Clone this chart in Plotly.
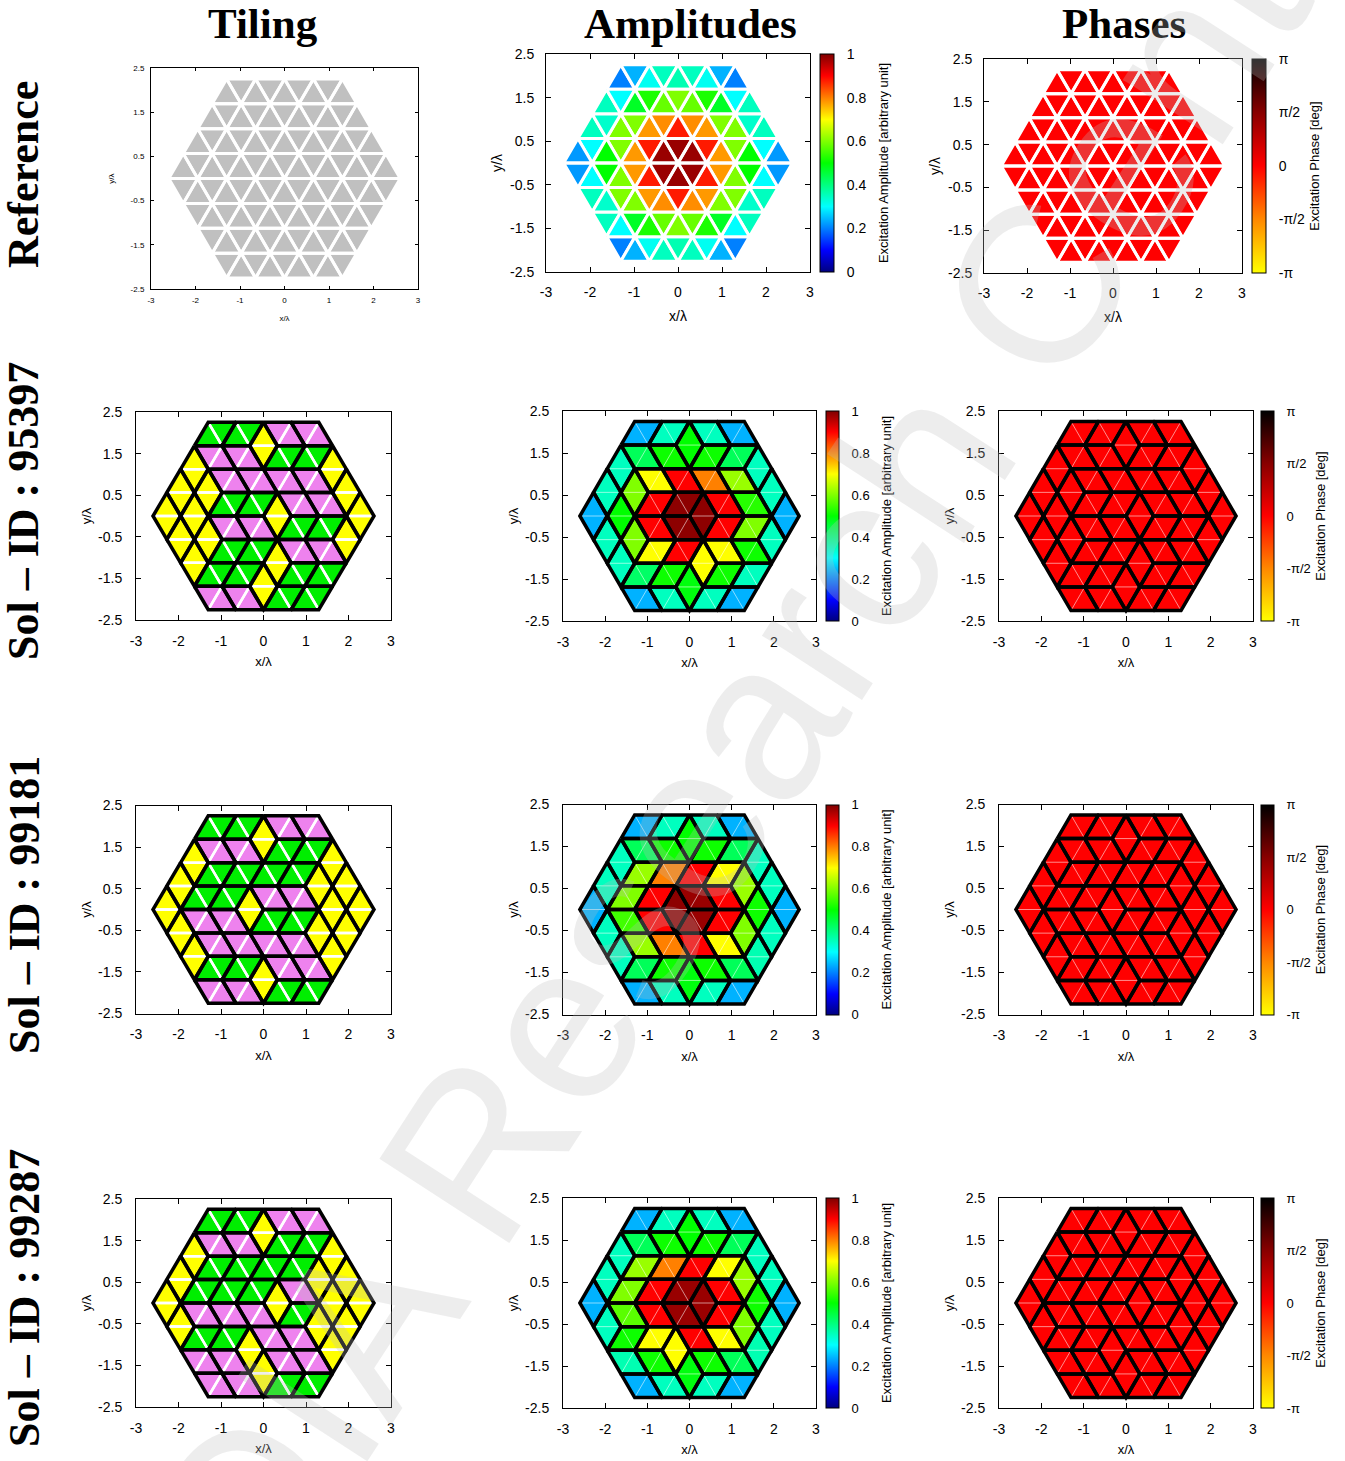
import math
import plotly.graph_objects as go
from plotly.colors import sample_colorscale

FIG_W, FIG_H = 1345, 1461
SANS = "Liberation Sans, Arial, sans-serif"
SERIF = "Liberation Serif, DejaVu Serif, serif"

# ---------------- data ----------------
COL_TITLES = ["Tiling", "Amplitudes", "Phases"]
ROW_TITLES = ["Reference", "Sol – ID : 95397", "Sol – ID : 99181", "Sol – ID : 99287"]
X_TICKS = [-3, -2, -1, 0, 1, 2, 3]
X_TICK_TEXT = ["-3", "-2", "-1", "0", "1", "2", "3"]
Y_TICKS = [-2.5, -1.5, -0.5, 0.5, 1.5, 2.5]
Y_TICK_TEXT = ["-2.5", "-1.5", "-0.5", "0.5", "1.5", "2.5"]
AMP_TICKS = [0, 0.2, 0.4, 0.6, 0.8, 1]
AMP_TICK_TEXT = ["0", "0.2", "0.4", "0.6", "0.8", "1"]
PHASE_TICKS = [-math.pi, -math.pi / 2, 0, math.pi / 2, math.pi]
PHASE_TICK_TEXT = ["-π", "-π/2", "0", "π/2", "π"]

ROW_LENGTHS = [9, 11, 13, 15, 15, 13, 11, 9]

# Reference array: one amplitude per triangle (rows top->bottom, left->right)
REF_AMP = [
    [0.20, 0.24, 0.31, 0.35, 0.36, 0.35, 0.31, 0.24, 0.20],
    [0.35, 0.30, 0.47, 0.52, 0.58, 0.60, 0.58, 0.52, 0.47, 0.30, 0.35],
    [0.35, 0.34, 0.60, 0.60, 0.78, 0.79, 0.88, 0.79, 0.78, 0.60, 0.60, 0.34, 0.35],
    [0.22, 0.30, 0.50, 0.60, 0.78, 0.88, 0.98, 0.98, 0.98, 0.88, 0.78, 0.60, 0.50, 0.30, 0.22],
    [0.22, 0.30, 0.50, 0.60, 0.78, 0.88, 0.98, 0.98, 0.98, 0.88, 0.78, 0.60, 0.50, 0.30, 0.22],
    [0.35, 0.34, 0.60, 0.60, 0.78, 0.79, 0.88, 0.79, 0.78, 0.60, 0.60, 0.34, 0.35],
    [0.35, 0.30, 0.47, 0.52, 0.58, 0.60, 0.58, 0.52, 0.47, 0.30, 0.35],
    [0.20, 0.24, 0.31, 0.35, 0.36, 0.35, 0.31, 0.24, 0.20],
]
REF_PHASE = [
    [0, 0, 0, 0, 0, 0, 0, 0, 0],
    [0, 0, 0, 0, 0, 0, 0, 0, 0, 0, 0],
    [0, 0, 0, 0, 0, 0, 0, 0, 0, 0, 0, 0, 0],
    [0, 0, 0, 0, 0, 0, 0, 0, 0, 0, 0, 0, 0, 0, 0],
    [0, 0, 0, 0, 0, 0, 0, 0, 0, 0, 0, 0, 0, 0, 0],
    [0, 0, 0, 0, 0, 0, 0, 0, 0, 0, 0, 0, 0],
    [0, 0, 0, 0, 0, 0, 0, 0, 0, 0, 0],
    [0, 0, 0, 0, 0, 0, 0, 0, 0],
]

# Rhombic tilings: per triangle, G = paired with neighbour (\ joint),
# V = paired with neighbour (/ joint), Y = paired vertically (horizontal joint)
TILING_95397 = ["GGGGYVVVV", "YVVVVYGGGGY", "YYYVVVVVVVVYY", "YYYYGGGGYVVVVYY",
                "YYYYVVVVYGGGGYY", "YYYGGGGYVVVVY", "YGGGGYYGGGG", "VVVVYGGGG"]
TILING_99181 = ["GGGGYVVVV", "YVVVVYGGGGY", "YYGGGGGGGGYYY", "YYGGGGYVVVVYYYY",
                "YYVVVVYGGGGYYYY", "YYVVVVVVVVYYY", "YGGGGYVVVVY", "VVVVYGGGG"]
TILING_99287 = ["GGGGYVVVV", "YVVVVYGGGGY", "YYGGGGGGGGYYY", "YYGGGGGGYVVYYYY",
                "YYVVVVVVYGGYYYY", "YGGGGYVVVVYYY", "VVVVYYVVVVY", "VVVVYGGGG"]

# Amplitude per rhombus (scan order, top->bottom, left->right)
AMP_95397 = [0.24, 0.35, 0.50, 0.35, 0.24,
             0.35, 0.43, 0.51, 0.51, 0.43, 0.35,
             0.35, 0.60, 0.70, 0.90, 0.80, 0.62, 0.35,
             0.24, 0.50, 0.90, 0.99, 0.99, 0.90, 0.53, 0.24,
             0.35, 0.60, 0.90, 0.99, 0.90, 0.60, 0.35,
             0.35, 0.70, 0.90, 0.70, 0.70, 0.51,
             0.42, 0.51, 0.49, 0.51, 0.35,
             0.24, 0.35, 0.35, 0.24]
AMP_99181 = [0.24, 0.35, 0.50, 0.35, 0.24,
             0.35, 0.43, 0.51, 0.51, 0.43, 0.35,
             0.35, 0.62, 0.80, 0.90, 0.70, 0.62, 0.35,
             0.24, 0.60, 0.90, 0.99, 0.98, 0.90, 0.51, 0.24,
             0.35, 0.55, 0.90, 0.98, 0.90, 0.60, 0.35,
             0.35, 0.62, 0.80, 0.90, 0.70, 0.36,
             0.43, 0.51, 0.49, 0.51, 0.43,
             0.24, 0.35, 0.35, 0.24]
AMP_99287 = [0.24, 0.35, 0.50, 0.35, 0.24,
             0.35, 0.43, 0.51, 0.51, 0.43, 0.35,
             0.35, 0.62, 0.80, 0.90, 0.70, 0.62, 0.35,
             0.24, 0.60, 0.90, 0.98, 0.98, 0.90, 0.51, 0.24,
             0.35, 0.57, 0.90, 0.98, 0.90, 0.60, 0.35,
             0.51, 0.70, 0.70, 0.90, 0.70, 0.36,
             0.36, 0.51, 0.49, 0.51, 0.43,
             0.24, 0.35, 0.35, 0.24]
PHASE_95397 = [0, 0, 0, 0, 0, 0, 0, 0, 0, 0, 0, 0, 0, 0, 0, 0, 0, 0, 0, 0, 0, 0, 0, 0,
               0, 0, 0, 0, 0, 0, 0, 0, 0, 0, 0, 0, 0, 0, 0, 0, 0, 0, 0, 0, 0, 0, 0, 0]
PHASE_99181 = [0, 0, 0, 0, 0, 0, 0, 0, 0, 0, 0, 0, 0, 0, 0, 0, 0, 0, 0, 0, 0, 0, 0, 0,
               0, 0, 0, 0, 0, 0, 0, 0, 0, 0, 0, 0, 0, 0, 0, 0, 0, 0, 0, 0, 0, 0, 0, 0]
PHASE_99287 = [0, 0, 0, 0, 0, 0, 0, 0, 0, 0, 0, 0, 0, 0, 0, 0, 0, 0, 0, 0, 0, 0, 0, 0,
               0, 0, 0, 0, 0, 0, 0, 0, 0, 0, 0, 0, 0, 0, 0, 0, 0, 0, 0, 0, 0, 0, 0, 0]

SOLUTIONS = [(TILING_95397, AMP_95397, PHASE_95397),
             (TILING_99181, AMP_99181, PHASE_99181),
             (TILING_99287, AMP_99287, PHASE_99287)]

# ---------------- styles ----------------
AMP_SCALE = [[0.0, "rgb(0,0,128)"], [0.1, "rgb(0,0,255)"], [0.3, "rgb(0,255,255)"],
             [0.5, "rgb(0,255,0)"], [0.7, "rgb(255,255,0)"], [0.8, "rgb(255,128,0)"],
             [0.9, "rgb(255,0,0)"], [1.0, "rgb(128,0,0)"]]
PHASE_SCALE = [[0.0, "rgb(255,255,0)"], [0.25, "rgb(255,136,0)"], [0.5, "rgb(255,0,0)"],
               [0.75, "rgb(136,0,0)"], [1.0, "rgb(0,0,0)"]]
TILE_COLORS = {"G": "rgb(0,238,0)", "V": "rgb(238,130,238)", "Y": "rgb(255,255,0)"}
REF_TILE_COLOR = "rgb(192,192,192)"
NBSP = "\u00a0"

# ---------------- geometry ----------------
SIDE = 0.65
HGT = SIDE * math.sqrt(3) / 2
NS = 4


def triangle(r, j):
    ytop = (NS - r) * HGT
    ybot = ytop - HGT
    if r < NS:
        xc = -NS * SIDE / 2 + SIDE / 2 * (j - r)
        up = (j % 2 == 0)
    else:
        xc = -NS * SIDE + SIDE / 2 * (r - NS) + SIDE / 2 * (j + 1)
        up = (j % 2 == 1)
    if up:
        pts = [(xc - SIDE / 2, ybot), (xc + SIDE / 2, ybot), (xc, ytop)]
    else:
        pts = [(xc - SIDE / 2, ytop), (xc + SIDE / 2, ytop), (xc, ybot)]
    return pts, up, xc


TRI = {(r, j): triangle(r, j) for r in range(8) for j in range(ROW_LENGTHS[r])}


def close(p, q):
    return abs(p[0] - q[0]) < 1e-9 and abs(p[1] - q[1]) < 1e-9


def build_rhombi(tiling):
    out = []
    for r in range(8):
        for j in range(ROW_LENGTHS[r]):
            t = tiling[r][j]
            pts, up, xc = TRI[(r, j)]
            if t == "G" and up:
                partner = (r, j + 1)
            elif t == "V" and not up:
                partner = (r, j + 1)
            elif t == "Y" and up:
                partner = next((r + 1, k) for k in range(ROW_LENGTHS[r + 1])
                               if not TRI[(r + 1, k)][1] and abs(TRI[(r + 1, k)][2] - xc) < 1e-9)
            else:
                continue
            out.append((t, (r, j), partner))
    return out


def rhombus_poly(a_key, b_key):
    p1 = TRI[a_key][0]
    p2 = TRI[b_key][0]
    shared = [p for p in p1 if any(close(p, q) for q in p2)]
    a = [p for p in p1 if not any(close(p, q) for q in p2)][0]
    b = [q for q in p2 if not any(close(q, p) for p in p1)][0]
    return [a, shared[0], b, shared[1], a], shared


def tri_poly(key):
    pts = TRI[key][0]
    return pts + [pts[0]]


# ---------------- figure helpers ----------------
fig = go.Figure()
layout_axes = {}
AX = [0]


def add_axes(box, tick_size, title_size, ticklen, xstand, ystand, xlab, ylab):
    AX[0] += 1
    k = AX[0]
    sfx = "" if k == 1 else str(k)
    x0, x1, y0, y1 = box
    common = dict(ticks="inside", ticklen=ticklen, tickcolor="black", tickwidth=1,
                  showline=True, linecolor="black", linewidth=1, mirror="ticks",
                  showgrid=False, zeroline=False, automargin=False, fixedrange=True,
                  tickfont=dict(family=SANS, size=tick_size, color="black"))
    layout_axes["xaxis" + sfx] = dict(common, domain=[x0 / FIG_W, x1 / FIG_W], range=[-3, 3],
                                      anchor="y" + sfx, tickvals=X_TICKS, ticktext=X_TICK_TEXT,
                                      ticklabelstandoff=xlab,
                                      title=dict(text="x/λ", standoff=xstand,
                                                 font=dict(family=SANS, size=title_size, color="black")))
    layout_axes["yaxis" + sfx] = dict(common, domain=[1 - y1 / FIG_H, 1 - y0 / FIG_H], range=[-2.5, 2.5],
                                      anchor="x" + sfx, tickvals=Y_TICKS, ticktext=Y_TICK_TEXT,
                                      ticklabelstandoff=ylab,
                                      title=dict(text="y/λ", standoff=ystand,
                                                 font=dict(family=SANS, size=title_size, color="black")))
    return "x" + sfx, "y" + sfx


def add_polys(polys, xr, yr, fill=None, line_color="black", line_width=1.0):
    xs, ys = [], []
    for poly in polys:
        for (x, y) in poly:
            xs.append(x)
            ys.append(y)
        xs.append(None)
        ys.append(None)
    fig.add_trace(go.Scatter(x=xs, y=ys, mode="lines", xaxis=xr, yaxis=yr,
                             fill="toself" if fill else "none", fillcolor=fill,
                             line=dict(color=line_color, width=line_width),
                             hoverinfo="skip", showlegend=False))


def add_colorbar(xr, yr, scale, cmin, cmax, tickvals, ticktext, title, left, top, bot, thick, tsize, pad):
    fig.add_trace(go.Scatter(
        x=[None], y=[None], mode="markers", xaxis=xr, yaxis=yr, showlegend=False, hoverinfo="skip",
        marker=dict(color=[cmin], cmin=cmin, cmax=cmax, colorscale=scale, showscale=True,
                    colorbar=dict(x=left / FIG_W, xanchor="left", y=1 - top / FIG_H, yanchor="top",
                                  len=(bot - top) / FIG_H, lenmode="fraction",
                                  thickness=thick, thicknessmode="pixels", xpad=0, ypad=0,
                                  outlinecolor="black", outlinewidth=1,
                                  tickvals=tickvals, ticktext=[t + NBSP * pad for t in ticktext],
                                  ticks="outside", ticklen=10, tickcolor="rgba(0,0,0,0)",
                                  tickfont=dict(family=SANS, size=tsize, color="black"),
                                  title=dict(text=title, side="right",
                                             font=dict(family=SANS, size=13, color="black"))))))


def color_of(scale, v, cmin, cmax):
    return sample_colorscale(scale, [(v - cmin) / (cmax - cmin)])[0]


AMP_TITLE = "Excitation Amplitude [arbitrary unit]"
PHASE_TITLE = "Excitation Phase [deg]"

# ---------------- Reference row ----------------
xr, yr = add_axes((151, 418, 68, 289), 8, 8, 3, 11, 14, 3, 4)
all_tris = [tri_poly((r, j)) for r in range(8) for j in range(ROW_LENGTHS[r])]
add_polys(all_tris, xr, yr, fill=REF_TILE_COLOR, line_color="white", line_width=3)

xr, yr = add_axes((546, 810, 54, 272), 14, 14, 5, 12, 4, 7, 8)
groups = {}
for r in range(8):
    for j in range(ROW_LENGTHS[r]):
        groups.setdefault(color_of(AMP_SCALE, REF_AMP[r][j], 0, 1), []).append(tri_poly((r, j)))
for c, polys in groups.items():
    add_polys(polys, xr, yr, fill=c, line_color="white", line_width=3)
add_colorbar(xr, yr, AMP_SCALE, 0, 1, AMP_TICKS, AMP_TICK_TEXT, AMP_TITLE, 820, 54, 272, 14, 14, 2)

xr, yr = add_axes((984, 1242, 59, 273), 14, 14, 5, 12, 4, 7, 8)
groups = {}
for r in range(8):
    for j in range(ROW_LENGTHS[r]):
        groups.setdefault(color_of(PHASE_SCALE, REF_PHASE[r][j], -math.pi, math.pi), []).append(tri_poly((r, j)))
for c, polys in groups.items():
    add_polys(polys, xr, yr, fill=c, line_color="white", line_width=3)
add_colorbar(xr, yr, PHASE_SCALE, -math.pi, math.pi, PHASE_TICKS, PHASE_TICK_TEXT, PHASE_TITLE,
             1252, 59, 273, 14, 14, 0)

# ---------------- Solution rows ----------------
for s, (tiling, amps, phases) in enumerate(SOLUTIONS):
    d = 393.5 * s
    rh = build_rhombi(tiling)
    outlines, joints = [], []
    for (t, a, b) in rh:
        poly, shared = rhombus_poly(a, b)
        outlines.append(poly)
        joints.append(shared)

    # tiling
    xr, yr = add_axes((136, 391, 412 + d, 620 + d), 14, 13, 5, 9, 3, 8, 10)
    groups = {}
    for (t, a, b) in rh:
        groups.setdefault(TILE_COLORS[t], []).extend([tri_poly(a), tri_poly(b)])
    for c, polys in groups.items():
        add_polys(polys, xr, yr, fill=c, line_color="white", line_width=2.5)
    add_polys(outlines, xr, yr, None, "black", 3.5)

    # amplitudes
    top, bot = 411 + d, 621 + d
    xr, yr = add_axes((563, 816, top, bot), 14, 13, 5, 9, 3, 8, 10)
    groups = {}
    for poly, v in zip(outlines, amps):
        groups.setdefault(color_of(AMP_SCALE, v, 0, 1), []).append(poly)
    for c, polys in groups.items():
        add_polys(polys, xr, yr, fill=c, line_color=c, line_width=0.5)
    add_polys(joints, xr, yr, None, "rgba(255,255,255,0.55)", 1)
    add_polys(outlines, xr, yr, None, "black", 3.5)
    add_colorbar(xr, yr, AMP_SCALE, 0, 1, AMP_TICKS, AMP_TICK_TEXT, AMP_TITLE, 826, top, bot, 13, 13, 2)

    # phases
    xr, yr = add_axes((999, 1253, top, bot), 14, 13, 5, 9, 3, 8, 10)
    groups = {}
    for poly, v in zip(outlines, phases):
        groups.setdefault(color_of(PHASE_SCALE, v, -math.pi, math.pi), []).append(poly)
    for c, polys in groups.items():
        add_polys(polys, xr, yr, fill=c, line_color=c, line_width=0.5)
    add_polys(joints, xr, yr, None, "rgba(255,255,255,0.55)", 1)
    add_polys(outlines, xr, yr, None, "black", 3.5)
    add_colorbar(xr, yr, PHASE_SCALE, -math.pi, math.pi, PHASE_TICKS, PHASE_TICK_TEXT, PHASE_TITLE,
                 1261, top, bot, 13, 13, 0)

# ---------------- annotations ----------------
ann = []
for txt, cx in zip(COL_TITLES, [263, 690, 1124]):
    ann.append(dict(text=txt, x=cx / FIG_W, y=1 - 23 / FIG_H, xref="paper", yref="paper",
                    xanchor="center", yanchor="middle", showarrow=False,
                    font=dict(family=SERIF, size=43, color="black", weight="bold")))
for txt, cy in zip(ROW_TITLES, [175, 511, 905, 1298]):
    ann.append(dict(text=txt, x=24 / FIG_W, y=1 - cy / FIG_H, xref="paper", yref="paper",
                    xanchor="center", yanchor="middle", showarrow=False, textangle=-90,
                    font=dict(family=SERIF, size=44, color="black", weight="bold")))
ann.append(dict(text="ELEDIA Research Center", x=665 / FIG_W, y=1 - 860 / FIG_H,
                xref="paper", yref="paper", xanchor="center", yanchor="middle", showarrow=False,
                textangle=-57, font=dict(family=SANS, size=225, color="rgba(190,190,190,0.27)")))

fig.update_layout(width=FIG_W, height=FIG_H, margin=dict(l=0, r=0, t=0, b=0),
                  paper_bgcolor="white", plot_bgcolor="white", showlegend=False,
                  annotations=ann, **layout_axes)

fig.write_html("out.html")
